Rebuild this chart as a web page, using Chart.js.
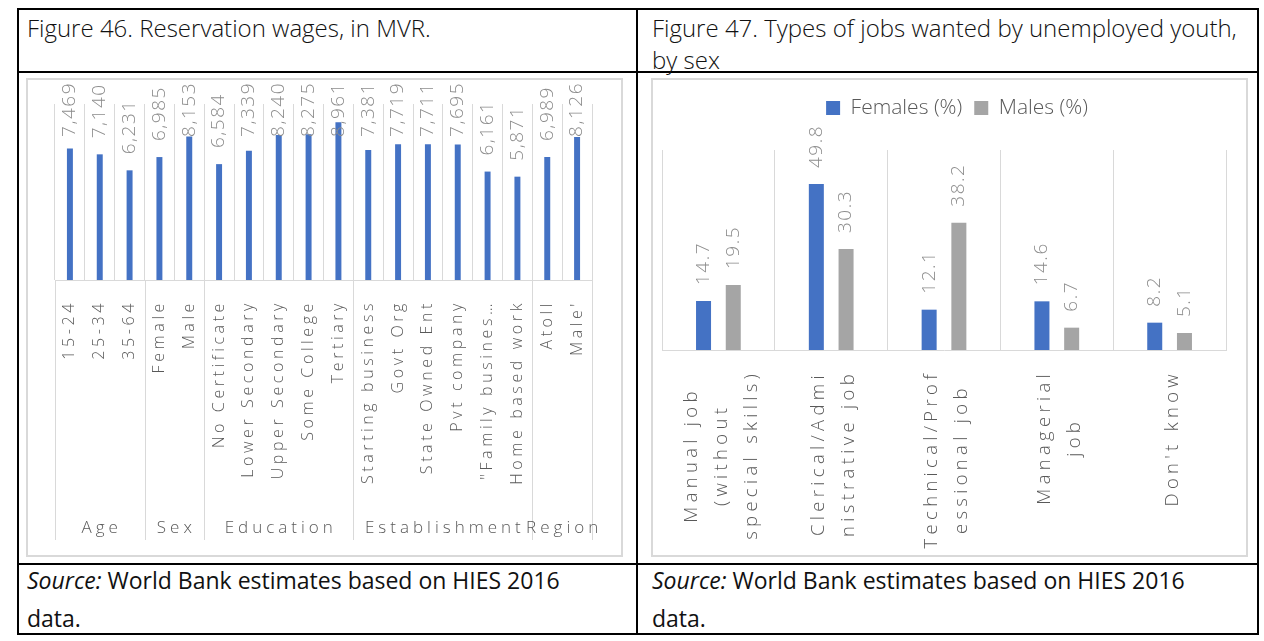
<!DOCTYPE html>
<html><head><meta charset="utf-8">
<script src="https://cdn.jsdelivr.net/npm/chart.js@4.4.1/dist/chart.umd.min.js"></script>
<style>
html,body{margin:0;padding:0;background:#fff;width:1264px;height:641px;overflow:hidden;font-family:"Open Sans",sans-serif;}
.ln{position:absolute;background:#000;}
.box{position:absolute;border:2px solid #d9d9d9;box-sizing:border-box;}
.txt{position:absolute;color:#111;white-space:nowrap;}
.ttl{font-size:24px;font-weight:300;}
.src{font-size:23px;font-weight:400;}
canvas{position:absolute;}
</style></head><body>
<div class="ln" style="left:17px;top:8px;width:1242px;height:2px"></div>
<div class="ln" style="left:17px;top:71px;width:1242px;height:2px"></div>
<div class="ln" style="left:17px;top:563px;width:1242px;height:2px"></div>
<div class="ln" style="left:17px;top:633px;width:1242px;height:2px"></div>
<div class="ln" style="left:17px;top:8px;width:2px;height:627px"></div>
<div class="ln" style="left:636px;top:8px;width:2px;height:627px"></div>
<div class="ln" style="left:1257px;top:8px;width:2px;height:627px"></div>

<div class="txt ttl" style="left:27px;top:12px;line-height:32px">Figure 46. Reservation wages, in MVR.</div>
<div class="txt ttl" style="left:652px;top:12px;line-height:32px">Figure 47. Types of jobs wanted by unemployed youth,<br>by sex</div>
<div class="txt src" style="left:27px;top:561px;line-height:38px"><i>Source:</i> World Bank estimates based on HIES 2016<br>data.</div>
<div class="txt src" style="left:652px;top:561px;line-height:38px"><i>Source:</i> World Bank estimates based on HIES 2016<br>data.</div>

<div class="box" style="left:26px;top:78px;width:597px;height:479px"></div>
<div class="box" style="left:651px;top:78px;width:597px;height:479px"></div>
<canvas id="c1" width="594" height="478" style="left:27px;top:78px"></canvas>
<canvas id="c2" width="594" height="478" style="left:652px;top:78px"></canvas>

<script>
// ---- Figure 46 data ----
const categories = ['15-24','25-34','35-64','Female','Male','No Certificate','Lower Secondary','Upper Secondary','Some College','Tertiary','Starting business','Govt Org','State Owned Ent','Pvt company','"Family busines\u2026','Home based work','Atoll',"Male'"];
const groups = ['Age','Sex','Education','Establishment','Region'];
const groupSizes = [3,2,5,6,2];
const wages = [7469,7140,6231,6985,8153,6584,7339,8240,8275,8961,7381,7719,7711,7695,6161,5871,6989,8126];

// ---- Figure 47 data ----
const jobTypes = [['Manual job','(without','special skills)'],['Clerical/Admi','nistrative job'],['Technical/Prof','essional job'],['Managerial','job'],["Don't know"]];
const females = [14.7,49.8,12.1,14.6,8.2];
const males = [19.5,30.3,38.2,6.7,5.1];

const BLUE = '#4472C4', GREY = '#A5A5A5', GRID = '#d9d9d9', AXT = '#595959', LBL = '#8c8c8c';
const FONT = '"Open Sans", sans-serif';

function rotText(ctx, txt, x, y, align){
  ctx.save(); ctx.translate(x, y); ctx.rotate(-Math.PI/2);
  ctx.textAlign = align; ctx.textBaseline = 'middle';
  ctx.fillText(txt, 0, 0); ctx.restore();
}

const leftPlugin = {
  id: 'leftAxis',
  afterDraw(chart){
    const {ctx, chartArea:a, scales:{x}} = chart;
    ctx.save();
    // value labels
    ctx.font = '300 19px ' + FONT; ctx.fillStyle = LBL; ctx.letterSpacing = '1.5px';
    chart.getDatasetMeta(0).data.forEach((bar, i) => {
      const t = wages[i].toLocaleString('en-US');
      const w = ctx.measureText(t).width;
      let b = bar.y - 16;
      if (b - w < 4) b = 4 + w;
      rotText(ctx, t, bar.x, b, 'left');
    });
    // category labels
    ctx.font = '300 16px ' + FONT; ctx.fillStyle = AXT; ctx.letterSpacing = '3.6px';
    categories.forEach((c, i) => rotText(ctx, c, x.getPixelForValue(i), a.bottom + 20, 'right'));
    // group separators
    const bounds = [a.left]; let idx = 0;
    groupSizes.forEach(n => { idx += n; bounds.push(idx >= categories.length ? a.right : (x.getPixelForValue(idx-1) + x.getPixelForValue(idx)) / 2); });
    ctx.strokeStyle = GRID; ctx.lineWidth = 1;
    bounds.forEach(b => { const bx = Math.round(b) + 0.5; ctx.beginPath(); ctx.moveTo(bx, a.bottom); ctx.lineTo(bx, a.bottom + 260); ctx.stroke(); });
    // group labels
    ctx.font = '300 17px ' + FONT; ctx.letterSpacing = '4px'; ctx.textAlign = 'center'; ctx.textBaseline = 'middle';
    groups.forEach((g, k) => ctx.fillText(g, (bounds[k] + bounds[k+1]) / 2 + 2, a.bottom + 248));
    ctx.restore();
  }
};

new Chart(document.getElementById('c1'), {
  type: 'bar',
  data: { labels: categories, datasets: [{ label: 'Reservation wage (MVR)', data: wages, backgroundColor: BLUE, barPercentage: 0.2, categoryPercentage: 1 }] },
  options: {
    responsive: false, animation: false, events: [],
    layout: { padding: { left: 28, right: 29, top: 26, bottom: 0 } },
    plugins: { legend: { display: false }, tooltip: { enabled: false } },
    scales: {
      x: { grid: { offset: true, color: GRID, lineWidth: 1, drawTicks: false }, border: { color: GRID }, ticks: { display: false }, afterFit(s){ s.height = 276; } },
      y: { display: false, min: 0, max: 10000 }
    }
  },
  plugins: [leftPlugin]
});

const rightPlugin = {
  id: 'rightAxis',
  afterInit(chart){
    const lg = chart.legend; const orig = lg.fit;
    lg.fit = function(){ orig.call(this); this.height = 72; };
  },
  afterLayout(chart){
    const lg = chart.legend;
    const dx = 305 - (lg.left + lg.right) / 2;
    lg.left += dx; lg.right += dx;
    const dy = (28 - 10.5 - 10) - lg.top;
    lg.top += dy; lg.bottom += dy;
  },
  afterDraw(chart){
    const {ctx, chartArea:a, scales:{x}} = chart;
    ctx.save();
    ctx.font = '300 19px ' + FONT; ctx.fillStyle = LBL; ctx.letterSpacing = '1.5px';
    [females, males].forEach((arr, d) => {
      chart.getDatasetMeta(d).data.forEach((bar, i) => rotText(ctx, arr[i].toFixed(1), bar.x, bar.y - 16, 'left'));
    });
    ctx.font = '300 18.5px ' + FONT; ctx.fillStyle = AXT; ctx.letterSpacing = '4.3px';
    jobTypes.forEach((lines, i) => {
      const cx = x.getPixelForValue(i) + 3;
      const maxW = Math.max(...lines.map(l => ctx.measureText(l).width));
      lines.forEach((l, j) => rotText(ctx, l, cx + (j - (lines.length - 1) / 2) * 30, a.bottom + 20 + maxW / 2, 'center'));
    });
    ctx.restore();
  }
};

new Chart(document.getElementById('c2'), {
  type: 'bar',
  data: { labels: jobTypes, datasets: [
    { label: 'Females (%)', data: females, backgroundColor: BLUE, barPercentage: 0.505, categoryPercentage: 0.527 },
    { label: 'Males (%)', data: males, backgroundColor: GREY, barPercentage: 0.505, categoryPercentage: 0.527 }
  ] },
  options: {
    responsive: false, animation: false, events: [],
    layout: { padding: { left: 10, right: 20, top: 0, bottom: 0 } },
    plugins: {
      legend: { display: true, position: 'top', labels: { color: AXT, font: { family: 'Open Sans', size: 21, weight: 300 }, boxWidth: 14, boxHeight: 14, padding: 12 } },
      tooltip: { enabled: false }
    },
    scales: {
      x: { grid: { offset: true, color: GRID, lineWidth: 1, drawTicks: false }, border: { color: GRID }, ticks: { display: false }, afterFit(s){ s.height = 206; } },
      y: { display: false, min: 0, max: 60 }
    }
  },
  plugins: [rightPlugin]
});
</script>
</body></html>
